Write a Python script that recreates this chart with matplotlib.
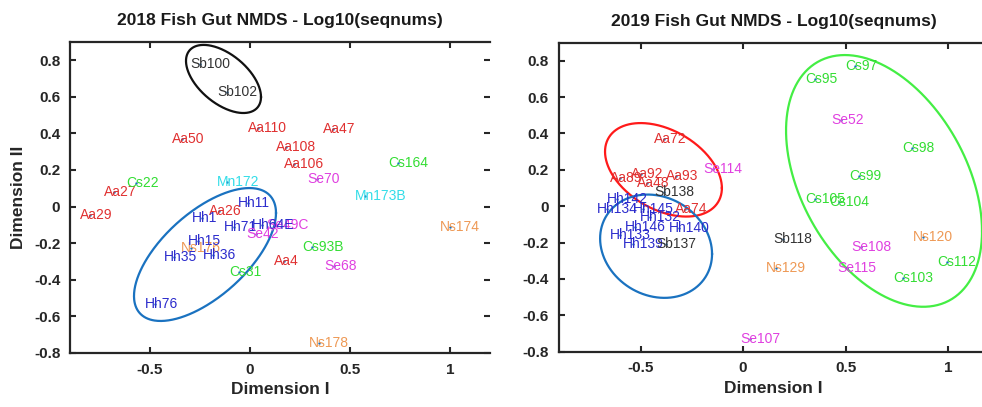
import numpy as np
import matplotlib
matplotlib.use("Agg")
import matplotlib.pyplot as plt

plt.rcParams['font.family'] = ['Liberation Sans', 'DejaVu Sans']

# ---- 2018 NMDS scores ----
labels_2018 = ['Sb100', 'Sb102', 'Aa110', 'Aa47', 'Aa50', 'Aa108', 'Aa106', 'Cs164',
               'Aa27', 'Cs22', 'Aa29', 'Mn172', 'Se70', 'Mn173B', 'Se49C', 'Hh64E',
               'Hh11', 'Aa26', 'Hh1', 'Hh71', 'Se42', 'Ns176', 'Hh15', 'Hh35', 'Hh36',
               'Cs93B', 'Aa4', 'Cs31', 'Se68', 'Hh76', 'Ns174', 'Ns178']
dim1_2018 = [-0.25, -0.115, 0.04, 0.415, -0.34, 0.18, 0.22, 0.74,
             -0.68, -0.57, -0.80, -0.115, 0.335, 0.575, 0.13, 0.06,
             -0.01, -0.155, -0.24, -0.08, 0.03, -0.295, -0.26, -0.38, -0.185,
             0.31, 0.17, -0.055, 0.42, -0.475, 1.0, 0.345]
dim2_2018 = [0.78, 0.627, 0.43, 0.423, 0.369, 0.323, 0.232, 0.239,
             0.081, 0.127, -0.046, 0.136, 0.149, 0.057, -0.10, -0.101,
             0.017, -0.025, -0.061, -0.11, -0.152, -0.228, -0.187, -0.278, -0.265,
             -0.22, -0.298, -0.36, -0.325, -0.534, -0.11, -0.748]

# ---- 2019 NMDS scores ----
labels_2019 = ['Aa72', 'Se114', 'Aa89', 'Aa92', 'Aa93', 'Aa48', 'Sb138', 'Hh142',
               'Hh134', 'Hh145', 'Aa74', 'Hh132', 'Hh146', 'Hh140', 'Hh133', 'Hh139',
               'Sb137', 'Cs97', 'Cs95', 'Se52', 'Cs98', 'Cs99', 'Cs105', 'Cs104',
               'Sb118', 'Ns120', 'Se108', 'Cs112', 'Ns129', 'Se115', 'Cs103', 'Se107']
dim1_2019 = [-0.385, -0.146, -0.60, -0.50, -0.327, -0.468, -0.385, -0.615,
             -0.663, -0.49, -0.283, -0.454, -0.527, -0.312, -0.60, -0.537,
             -0.376, 0.546, 0.35, 0.478, 0.824, 0.566, 0.351, 0.468,
             0.195, 0.878, 0.576, 0.995, 0.161, 0.507, 0.78, 0.034]
dim2_2019 = [0.368, 0.206, 0.157, 0.179, 0.166, 0.125, 0.079, 0.04,
             -0.013, -0.014, -0.018, -0.058, -0.114, -0.119, -0.156, -0.207,
             -0.207, 0.772, 0.699, 0.473, 0.318, 0.166, 0.042, 0.022,
             -0.178, -0.169, -0.224, -0.309, -0.34, -0.34, -0.395, -0.732]

# ---- group ellipses: centre, half-width, half-height, tilt correlation ----
ell_2018_cx = [-0.1325, -0.225]
ell_2018_cy = [0.697, -0.262]
ell_2018_hw = [0.1875, 0.355]
ell_2018_hh = [0.186, 0.363]
ell_2018_rho = [-0.53, 0.625]
ell_2018_col = ['#111111', '#1a72c0']

ell_2019_cx = [-0.388, -0.424, 0.688]
ell_2019_cy = [0.20, -0.22, 0.139]
ell_2019_hw = [0.285, 0.273, 0.478]
ell_2019_hh = [0.257, 0.284, 0.692]
ell_2019_rho = [-0.39, -0.15, -0.40]
ell_2019_col = ['#ff1a1a', '#1a72c0', '#44ee44']

species_colors = {
    'Aa': '#e03030',
    'Cs': '#33dd33',
    'Hh': '#2b2bcc',
    'Se': '#e040e0',
    'Mn': '#33dde8',
    'Ns': '#ee9955',
    'Sb': '#333333',
}

xticks = [-0.5, 0, 0.5, 1]
yticks = [-0.8, -0.6, -0.4, -0.2, 0, 0.2, 0.4, 0.6, 0.8]
xtick_labels = ['-0.5', '0', '0.5', '1']
ytick_labels = ['-0.8', '-0.6', '-0.4', '-0.2', '0', '0.2', '0.4', '0.6', '0.8']

W, H = 982, 407
fig = plt.figure(figsize=(W / 100, H / 100), dpi=100)
fig.patch.set_facecolor('white')

ax1 = fig.add_axes([70 / W, (H - 353) / H, 420 / W, (353 - 41.8) / H])
ax2 = fig.add_axes([558.5 / W, (H - 351.7) / H, 430.5 / W, (351.7 - 42.5) / H])


def draw_panel(ax, title, labels, d1, d2, ecx, ecy, ehw, ehh, erho, ecol):
    t = np.linspace(0, 2 * np.pi, 400)
    for cx, cy, hw, hh, rho, col in zip(ecx, ecy, ehw, ehh, erho, ecol):
        ex = cx + hw * np.cos(t)
        ey = cy + hh * (rho * np.cos(t) + np.sqrt(1 - rho ** 2) * np.sin(t))
        ax.plot(ex, ey, color=col, lw=1.6, zorder=2)
    ax.plot(d1, d2, linestyle='none', marker='.', markersize=1.5,
            color='#1a72c0', zorder=3)
    for lab, x, y in zip(labels, d1, d2):
        ax.annotate(lab, (x, y), xytext=(-7.2, 0), textcoords='offset points',
                    ha='left', va='center', fontsize=10,
                    color=species_colors[lab[:2]], zorder=4)
    ax.set_xlim(-0.9, 1.2)
    ax.set_ylim(-0.8, 0.9)
    ax.set_xticks(xticks)
    ax.set_xticklabels(xtick_labels)
    ax.set_yticks(yticks)
    ax.set_yticklabels(ytick_labels)
    ax.tick_params(direction='in', top=True, right=True, length=4, width=1.5,
                   color='#262626', labelsize=11, pad=7, labelcolor='#262626')
    for lbl in ax.get_xticklabels() + ax.get_yticklabels():
        lbl.set_fontweight('bold')
    for sp in ax.spines.values():
        sp.set_linewidth(1.6)
        sp.set_color('#262626')
    ax.set_title(title, fontsize=12.5, fontweight='bold', color='#1a1a1a', pad=12)
    ax.set_xlabel('Dimension I', fontsize=12.5, fontweight='bold',
                  color='#262626', labelpad=4)
    ax.set_ylabel('Dimension II', fontsize=12.5, fontweight='bold',
                  color='#262626', labelpad=6)


draw_panel(ax1, '2018 Fish Gut NMDS - Log10(seqnums)', labels_2018, dim1_2018, dim2_2018,
           ell_2018_cx, ell_2018_cy, ell_2018_hw, ell_2018_hh, ell_2018_rho, ell_2018_col)
draw_panel(ax2, '2019 Fish Gut NMDS - Log10(seqnums)', labels_2019, dim1_2019, dim2_2019,
           ell_2019_cx, ell_2019_cy, ell_2019_hw, ell_2019_hh, ell_2019_rho, ell_2019_col)
ax1.spines['right'].set_visible(False)
ax2.set_ylabel('')

fig.savefig('out.png', dpi=100, facecolor='white')
